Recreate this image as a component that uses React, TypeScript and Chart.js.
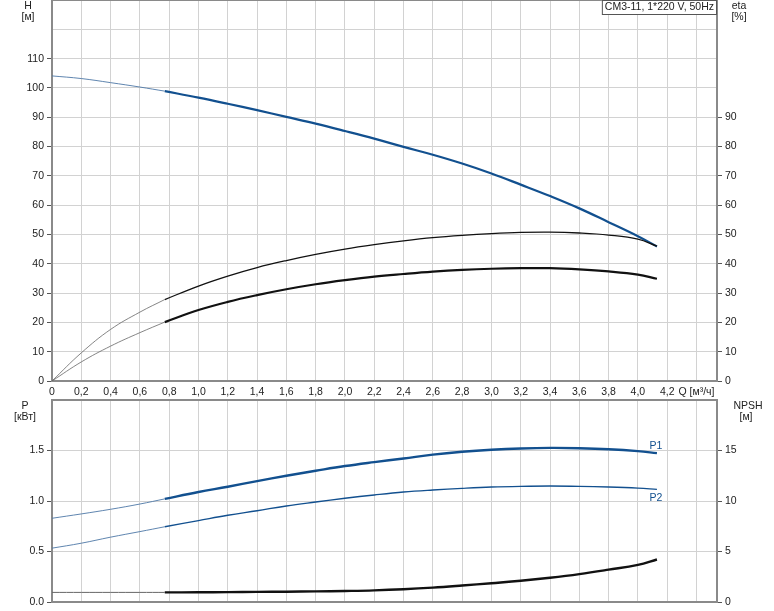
import React, { useEffect, useRef } from 'react';
import { Chart, registerables } from 'chart.js';

Chart.register(...registerables);

// ---- data ----
const Q = [0, 0.2, 0.4, 0.6, 0.77, 1.0, 1.2, 1.4, 1.6, 1.8, 2.0, 2.2, 2.4, 2.6, 2.8, 3.0, 3.2, 3.4, 3.6, 3.8, 4.0, 4.13];
const SPLIT = 4; // index where the bold (operating) range starts

const H = [104.1, 103.2, 101.8, 100.3, 98.9, 96.7, 94.6, 92.4, 90.1, 87.8, 85.3, 82.7, 79.9, 77.2, 74.2, 70.8, 67.0, 63.1, 58.9, 54.2, 49.4, 45.9];
const ETA_PUMP = [0, 9.6, 17.6, 23.5, 27.8, 32.4, 35.8, 38.7, 41.1, 43.2, 45.0, 46.5, 47.8, 48.9, 49.7, 50.3, 50.7, 50.8, 50.5, 49.8, 48.4, 46.0];
const ETA_TOTAL = [0, 6.5, 11.9, 16.5, 20.1, 24.2, 27.0, 29.3, 31.3, 33.0, 34.4, 35.6, 36.5, 37.3, 37.9, 38.3, 38.5, 38.5, 38.1, 37.4, 36.3, 34.9];
const P1 = [0.829, 0.872, 0.918, 0.970, 1.021, 1.089, 1.141, 1.197, 1.250, 1.299, 1.346, 1.385, 1.421, 1.459, 1.487, 1.507, 1.520, 1.526, 1.523, 1.513, 1.494, 1.474];
const P2 = [0.533, 0.582, 0.642, 0.697, 0.745, 0.806, 0.859, 0.904, 0.951, 0.990, 1.027, 1.060, 1.089, 1.109, 1.125, 1.138, 1.145, 1.148, 1.145, 1.138, 1.127, 1.115];
const NPSH = [0.95, 0.95, 0.95, 0.95, 0.95, 0.96, 0.98, 1.0, 1.02, 1.05, 1.09, 1.15, 1.26, 1.42, 1.63, 1.86, 2.10, 2.40, 2.76, 3.20, 3.68, 4.21];

const X_MAX = 4.54;
const X_TICKS = [0, 0.2, 0.4, 0.6, 0.8, 1.0, 1.2, 1.4, 1.6, 1.8, 2.0, 2.2, 2.4, 2.6, 2.8, 3.0, 3.2, 3.4, 3.6, 3.8, 4.0, 4.2, 4.4];
const H_MAX = 130;
const H_LABEL_MAX = 110;
const ETA_LABEL_MAX = 90;
const P_MAX = 2.0;
const P_LABEL_MAX = 1.5;
const NPSH_MAX = 20;
const NPSH_LABEL_MAX = 15;
const Q_UNIT_TICK = 4.4;
const Q_UNIT_LABEL = 'Q [м³/ч]';
const TITLE = 'CM3-11, 1*220 V, 50Hz';

// ---- styles ----
const FONT = '"Liberation Sans", Arial, sans-serif';
const FS = 10.5;
const GRID = '#d2d2d2';
const AXIS = '#8a8a8a';
const TEXT = '#222';
const BLUE = '#12508f';
const BLUE_THIN = '#4d77a6';
const BLACK = '#111';
const GRAY_THIN = '#666';

function seg(values: number[], thick: boolean) {
  const from = thick ? SPLIT : 0;
  const to = thick ? Q.length : SPLIT + 1;
  return Q.slice(from, to).map((q, i) => ({ x: q, y: values[from + i] }));
}

function line(values: number[], thick: boolean, color: string, width: number, yAxisID: string) {
  return {
    data: seg(values, thick),
    borderColor: color,
    borderWidth: width,
    pointRadius: 0,
    fill: false,
    tension: 0.4,
    yAxisID,
  };
}

function fmtQ(v: number) {
  if (Math.abs(v - Q_UNIT_TICK) < 1e-6) return Q_UNIT_LABEL;
  if (v > Q_UNIT_TICK + 0.01) return '';
  if (v === 0) return '0';
  return v.toFixed(1).replace('.', ',');
}

function zeroPad(s: any) {
  s.paddingTop = 0;
  s.paddingBottom = 0;
  s.paddingLeft = 0;
  s.paddingRight = 0;
}

function setXTicks(s: any) {
  s.ticks = X_TICKS.map((v) => ({ value: v }));
}

const frame = {
  id: 'frame',
  afterDraw(chart: any) {
    const { ctx, chartArea: a } = chart;
    ctx.save();
    ctx.strokeStyle = AXIS;
    ctx.lineWidth = 2;
    ctx.beginPath();
    ctx.moveTo(a.left - 1, a.top);
    ctx.lineTo(a.right + 1, a.top);
    ctx.stroke();
    ctx.restore();
  },
};

function textPlugin(id: string, items: { t: string; x: number; y: number }[], extra?: (chart: any) => void) {
  return {
    id,
    afterDraw(chart: any) {
      const ctx = chart.ctx;
      ctx.save();
      ctx.font = `${FS}px ${FONT}`;
      ctx.fillStyle = TEXT;
      ctx.textAlign = 'center';
      ctx.textBaseline = 'middle';
      items.forEach((it) => ctx.fillText(it.t, it.x, it.y));
      if (extra) extra(chart);
      ctx.restore();
    },
  };
}

function tickMark(limit: number) {
  return (c: any) => (c.tick && c.tick.value <= limit + 1e-9 ? '#555' : 'rgba(0,0,0,0)');
}

export default function App() {
  const topRef = useRef<HTMLCanvasElement>(null);
  const botRef = useRef<HTMLCanvasElement>(null);

  useEffect(() => {
    const tickFont = { family: FONT, size: FS };

    const topTitles = textPlugin(
      'topTitles',
      [
        { t: 'H', x: 28, y: 6 },
        { t: '[м]', x: 28, y: 17 },
        { t: 'eta', x: 739, y: 6 },
        { t: '[%]', x: 739, y: 17 },
      ],
      (chart) => {
        const ctx = chart.ctx;
        const a = chart.chartArea;
        const w = ctx.measureText(TITLE).width + 6;
        const h = 14;
        const x0 = a.right - w;
        ctx.fillStyle = '#fff';
        ctx.fillRect(x0, a.top, w, h);
        ctx.strokeStyle = '#555';
        ctx.lineWidth = 1;
        ctx.strokeRect(x0 + 0.5, a.top + 0.5, w - 1, h);
        ctx.fillStyle = TEXT;
        ctx.textAlign = 'left';
        ctx.fillText(TITLE, x0 + 3, a.top + 7.5);
      }
    );

    const top = new Chart(topRef.current!, {
      type: 'line',
      data: {
        datasets: [
          line(ETA_PUMP, false, GRAY_THIN, 0.8, 'y'),
          line(ETA_PUMP, true, BLACK, 1.3, 'y'),
          line(ETA_TOTAL, false, GRAY_THIN, 0.8, 'y'),
          line(ETA_TOTAL, true, BLACK, 2.2, 'y'),
          line(H, false, BLUE_THIN, 0.9, 'y'),
          line(H, true, BLUE, 2.2, 'y'),
        ],
      },
      options: {
        animation: false,
        responsive: false,
        maintainAspectRatio: false,
        layout: { padding: 0 },
        plugins: { legend: { display: false }, tooltip: { enabled: false } },
        scales: {
          x: {
            type: 'linear',
            min: 0,
            max: X_MAX,
            afterBuildTicks: setXTicks,
            ticks: {
              autoSkip: false,
              maxRotation: 0,
              padding: 5,
              color: TEXT,
              font: tickFont,
              callback: (v: any) => fmtQ(Number(v)),
            },
            grid: { color: GRID, lineWidth: 1, drawTicks: false },
            border: { color: AXIS, width: 2 },
            afterFit: (s: any) => {
              s.height = 18;
              zeroPad(s);
            },
          },
          y: {
            type: 'linear',
            position: 'left',
            min: 0,
            max: H_MAX,
            ticks: {
              stepSize: 10,
              padding: 3,
              color: TEXT,
              font: tickFont,
              callback: (v: any) => (Number(v) <= H_LABEL_MAX ? String(v) : ''),
            },
            grid: { color: GRID, lineWidth: 1, tickLength: 5, tickColor: tickMark(H_LABEL_MAX) },
            border: { color: AXIS, width: 2 },
            afterFit: (s: any) => {
              s.width = 52;
              zeroPad(s);
            },
          },
          y2: {
            type: 'linear',
            position: 'right',
            min: 0,
            max: H_MAX,
            ticks: {
              stepSize: 10,
              padding: 3,
              color: TEXT,
              font: tickFont,
              callback: (v: any) => (Number(v) <= ETA_LABEL_MAX ? String(v) : ''),
            },
            grid: { drawOnChartArea: false, tickLength: 5, tickColor: tickMark(ETA_LABEL_MAX) },
            border: { color: AXIS, width: 2 },
            afterFit: (s: any) => {
              s.width = 57;
              zeroPad(s);
            },
          },
        },
      } as any,
      plugins: [frame, topTitles],
    });

    const botTitles = textPlugin(
      'botTitles',
      [
        { t: 'P', x: 25, y: 7 },
        { t: '[кВт]', x: 25, y: 18 },
        { t: 'NPSH', x: 748, y: 7 },
        { t: '[м]', x: 746, y: 18 },
      ],
      (chart) => {
        const ctx = chart.ctx;
        const xs = chart.scales.x;
        const ys = chart.scales.y;
        const n = Q.length - 1;
        const px = xs.getPixelForValue(Q[n]);
        ctx.fillStyle = BLUE;
        ctx.textAlign = 'center';
        ctx.textBaseline = 'alphabetic';
        ctx.fillText('P1', px - 1, ys.getPixelForValue(P1[n]) - 4);
        ctx.textBaseline = 'top';
        ctx.fillText('P2', px - 1, ys.getPixelForValue(P2[n]) + 3);
      }
    );

    const bot = new Chart(botRef.current!, {
      type: 'line',
      data: {
        datasets: [
          line(NPSH, false, GRAY_THIN, 1, 'y2'),
          line(NPSH, true, BLACK, 2.4, 'y2'),
          line(P2, false, BLUE_THIN, 0.9, 'y'),
          line(P2, true, BLUE, 1.4, 'y'),
          line(P1, false, BLUE_THIN, 0.9, 'y'),
          line(P1, true, BLUE, 2.4, 'y'),
        ],
      },
      options: {
        animation: false,
        responsive: false,
        maintainAspectRatio: false,
        layout: { padding: { top: 1, left: 0, right: 0, bottom: 0 } },
        plugins: { legend: { display: false }, tooltip: { enabled: false } },
        scales: {
          x: {
            type: 'linear',
            min: 0,
            max: X_MAX,
            afterBuildTicks: setXTicks,
            ticks: { display: false },
            grid: { color: GRID, lineWidth: 1, drawTicks: false },
            border: { color: AXIS, width: 2 },
            afterFit: (s: any) => {
              s.height = 9;
              zeroPad(s);
            },
          },
          y: {
            type: 'linear',
            position: 'left',
            min: 0,
            max: P_MAX,
            ticks: {
              stepSize: 0.5,
              padding: 3,
              color: TEXT,
              font: tickFont,
              callback: (v: any) => (Number(v) <= P_LABEL_MAX + 1e-9 ? Number(v).toFixed(1) : ''),
            },
            grid: { color: GRID, lineWidth: 1, tickLength: 5, tickColor: tickMark(P_LABEL_MAX) },
            border: { color: AXIS, width: 2 },
            afterFit: (s: any) => {
              s.width = 52;
              zeroPad(s);
            },
          },
          y2: {
            type: 'linear',
            position: 'right',
            min: 0,
            max: NPSH_MAX,
            ticks: {
              stepSize: 5,
              padding: 3,
              color: TEXT,
              font: tickFont,
              callback: (v: any) => (Number(v) <= NPSH_LABEL_MAX ? String(v) : ''),
            },
            grid: { drawOnChartArea: false, tickLength: 5, tickColor: tickMark(NPSH_LABEL_MAX) },
            border: { color: AXIS, width: 2 },
            afterFit: (s: any) => {
              s.width = 57;
              zeroPad(s);
            },
          },
        },
      } as any,
      plugins: [frame, botTitles],
    });

    return () => {
      top.destroy();
      bot.destroy();
    };
  }, []);

  return (
    <div style={{ position: 'absolute', left: 0, top: 0, width: 774, height: 611, background: '#fff' }}>
      <canvas ref={topRef} width={774} height={399} style={{ position: 'absolute', left: 0, top: 0, width: 774, height: 399 }} />
      <canvas ref={botRef} width={774} height={212} style={{ position: 'absolute', left: 0, top: 399, width: 774, height: 212 }} />
    </div>
  );
}
